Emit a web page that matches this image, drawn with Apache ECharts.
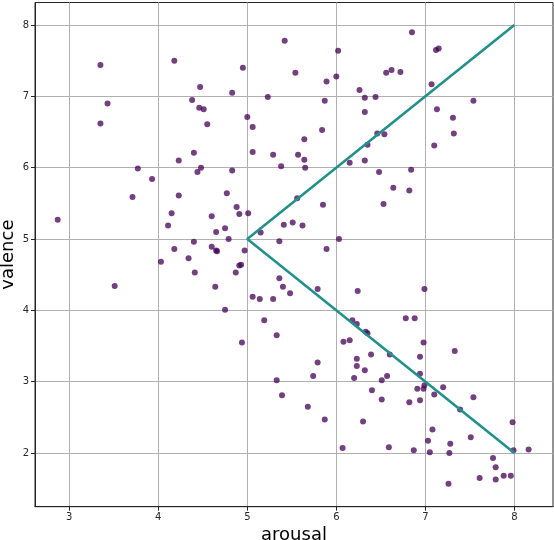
<!DOCTYPE html>
<html>
<head>
<meta charset="utf-8">
<script src="https://cdn.jsdelivr.net/npm/echarts@6/dist/echarts.min.js"></script>
<style>
html,body{margin:0;padding:0;background:#fff;}
#chart{width:554px;height:540px;}
</style>
</head>
<body>
<div id="chart"></div>
<script>
const arousal = [
  3.35,4.18,5.42,4.95,5.54,4.47,4.83,5.23,3.43,4.38,4.46,4.51,3.35,4.55,5.00,5.06,4.40,5.06,5.29,5.57,
  4.23,3.77,4.48,4.44,4.83,5.38,3.93,3.71,4.23,4.77,2.87,4.15,4.88,4.91,5.01,4.11,4.60,4.75,4.65,4.79,
  5.15,5.41,5.51,5.62,5.36,4.40,4.18,4.60,4.65,4.66,4.97,4.34,4.03,
  6.02,6.85,7.12,7.15,5.89,6.00,6.56,6.62,6.72,7.07,6.26,6.32,6.44,5.87,7.54,6.32,7.13,7.31,5.84,5.64,
  6.46,6.54,7.32,6.35,7.10,5.64,5.65,6.15,6.32,6.48,6.84,6.64,6.82,5.56,5.85,6.53,6.03,5.89,
  3.51,4.41,4.64,4.87,4.91,4.93,5.36,5.40,5.48,5.06,5.14,5.29,4.75,5.19,5.33,4.94,5.33,5.39,
  5.79,6.24,6.99,6.18,6.23,6.33,6.35,6.78,6.88,6.08,6.15,6.98,7.33,6.39,6.60,6.94,5.79,6.23,6.23,6.32,
  5.74,6.20,6.57,6.51,6.94,6.99,6.91,6.98,7.20,7.10,6.94,6.82,6.51,6.40,5.68,5.87,6.30,7.39,7.54,7.08,
  7.03,7.28,7.51,7.98,6.07,6.59,6.87,7.05,7.27,7.99,8.16,7.76,7.79,7.61,7.79,7.88,7.96,7.26
];
const valence = [
  7.44,7.50,7.78,7.40,7.33,7.13,7.05,6.99,6.90,6.95,6.84,6.82,6.62,6.61,6.71,6.57,6.21,6.22,6.18,6.18,
  6.10,5.99,6.00,5.94,5.96,6.02,5.84,5.59,5.61,5.64,5.27,5.36,5.45,5.35,5.36,5.19,5.32,5.15,5.10,5.00,
  5.09,5.20,5.23,5.19,4.97,4.96,4.86,4.89,4.84,4.83,4.84,4.73,4.68,
  7.64,7.90,7.65,7.67,7.21,7.28,7.33,7.37,7.34,7.17,7.09,6.98,6.99,6.94,6.94,6.78,6.82,6.70,6.53,6.40,
  6.48,6.47,6.48,6.32,6.31,6.11,6.00,6.07,6.10,5.94,5.97,5.72,5.68,5.57,5.48,5.49,5.00,4.86,
  4.34,4.53,4.33,4.53,4.63,4.64,4.45,4.33,4.24,4.19,4.16,4.16,4.01,3.86,3.65,3.55,3.02,2.81,
  4.30,4.27,4.30,3.86,3.81,3.70,3.68,3.89,3.89,3.56,3.58,3.55,3.43,3.38,3.38,3.35,3.27,3.32,3.22,3.16,
  3.08,3.05,3.08,3.02,3.11,2.95,2.90,2.90,2.92,2.82,2.74,2.71,2.75,2.88,2.65,2.47,2.44,2.61,2.78,2.33,
  2.17,2.13,2.22,2.43,2.07,2.08,2.04,2.01,2.00,2.04,2.05,1.93,1.80,1.65,1.63,1.68,1.68,1.57
];
const lineArousal = [8, 5, 8];
const lineValence = [8, 5, 2];
const xTicks = [3, 4, 5, 6, 7, 8];
const yTicks = [2, 3, 4, 5, 6, 7, 8];

const points = arousal.map((a, i) => [a, valence[i]]);
const linePts = lineArousal.map((a, i) => [a, lineValence[i]]);

const chart = echarts.init(document.getElementById('chart'), null, {renderer: 'canvas'});
const axisCommon = {
  type: 'value',
  nameLocation: 'middle',
  nameMoveOverlap: false,
  nameTextStyle: {fontFamily: 'DejaVu Sans', fontSize: 18, color: '#000'},
  axisLine: {show: true, onZero: false, lineStyle: {color: '#262626', width: 1}},
  axisTick: {show: true, length: 4, inside: false, lineStyle: {color: '#262626', width: 1}},
  axisLabel: {fontFamily: 'DejaVu Sans', fontSize: 10, color: '#262626', margin: 6},
  splitLine: {show: true, lineStyle: {color: '#b0b0b0', width: 1}}
};
chart.setOption({
  animation: false,
  backgroundColor: '#fff',
  grid: {left: 35, right: 1, top: 2.5, bottom: 33.3, show: true, borderColor: '#262626', borderWidth: 1,
         containLabel: false, outerBoundsMode: 'none'},
  xAxis: Object.assign({}, axisCommon, {
    name: 'arousal', nameGap: 20,
    min: 2.615, max: 8.434,
    axisTick: Object.assign({}, axisCommon.axisTick, {customValues: xTicks}),
    axisLabel: Object.assign({}, axisCommon.axisLabel, {customValues: xTicks})
  }),
  yAxis: Object.assign({}, axisCommon, {
    name: 'valence', nameGap: 18,
    min: 1.247, max: 8.316,
    axisTick: Object.assign({}, axisCommon.axisTick, {customValues: yTicks}),
    axisLabel: Object.assign({}, axisCommon.axisLabel, {customValues: yTicks})
  }),
  series: [
    {
      type: 'scatter',
      data: points,
      symbolSize: 6,
      itemStyle: {color: '#440154', opacity: 0.75},
      z: 2
    },
    {
      type: 'line',
      data: linePts,
      showSymbol: false,
      symbol: 'none',
      lineStyle: {color: '#21918c', width: 2.6},
      z: 3
    }
  ]
});
</script>
</body>
</html>
